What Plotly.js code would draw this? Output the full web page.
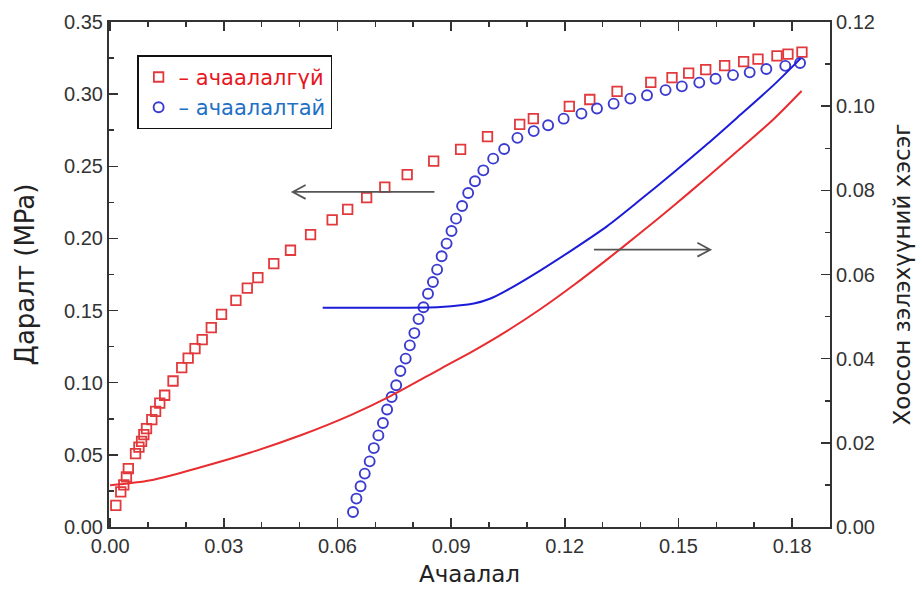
<!DOCTYPE html>
<html>
<head>
<meta charset="utf-8">
<script src="https://cdn.plot.ly/plotly-3.0.1.min.js"></script>
<style>html,body{margin:0;padding:0;background:#fff;}#chart{width:920px;height:592px;}</style>
</head>
<body>
<div id="chart"></div>
<script>
// Pressure vs strain, unloaded (squares)
const sqStrain = [0.0015,0.0028,0.0036,0.0043,0.0048,0.0067,0.0076,0.0083,0.0089,0.0096,0.0110,0.0120,0.0131,0.0144,0.0166,0.0189,0.0206,0.0224,0.0243,0.0267,0.0294,0.0332,0.0362,0.0390,0.0432,0.0476,0.0529,0.0586,0.0627,0.0677,0.0725,0.0784,0.0854,0.0925,0.0996,0.1081,0.1117,0.1212,0.1266,0.1338,0.1427,0.1483,0.1527,0.1572,0.1622,0.1672,0.1710,0.1760,0.1789,0.1826];
const sqPressure = [0.0150,0.0243,0.0292,0.0347,0.0405,0.0509,0.0554,0.0594,0.0640,0.0682,0.0744,0.0802,0.0859,0.0913,0.1012,0.1105,0.1171,0.1236,0.1299,0.1382,0.1474,0.1571,0.1656,0.1728,0.1825,0.1918,0.2026,0.2129,0.2202,0.2283,0.2356,0.2442,0.2536,0.2617,0.2705,0.2791,0.2830,0.2915,0.2963,0.3019,0.3082,0.3114,0.3146,0.3170,0.3197,0.3225,0.3243,0.3265,0.3278,0.3291];
// Pressure vs strain, loaded (circles)
const ciStrain = [0.0641,0.0650,0.0661,0.0672,0.0685,0.0696,0.0708,0.0720,0.0731,0.0743,0.0755,0.0766,0.0780,0.0791,0.0803,0.0814,0.0827,0.0839,0.0852,0.0863,0.0875,0.0888,0.0901,0.0913,0.0929,0.0945,0.0963,0.0985,0.1011,0.1040,0.1075,0.1118,0.1156,0.1197,0.1244,0.1285,0.1329,0.1373,0.1417,0.1466,0.1509,0.1555,0.1598,0.1644,0.1688,0.1732,0.1782,0.1821];
const ciPressure = [0.0104,0.0197,0.0282,0.0370,0.0455,0.0547,0.0635,0.0721,0.0814,0.0901,0.0982,0.1081,0.1167,0.1259,0.1344,0.1441,0.1523,0.1617,0.1698,0.1784,0.1876,0.1964,0.2051,0.2137,0.2225,0.2315,0.2396,0.2472,0.2553,0.2620,0.2697,0.2744,0.2784,0.2830,0.2865,0.2900,0.2934,0.2969,0.2992,0.3028,0.3054,0.3080,0.3107,0.3132,0.3151,0.3174,0.3196,0.3216];
// Void fraction curves (right axis)
const redLineStrain = [0.0,0.0107,0.0239,0.0371,0.0503,0.0635,0.0740,0.0872,0.0960,0.1048,0.1136,0.1224,0.1312,0.1400,0.1488,0.1576,0.1664,0.1751,0.1825];
const redLineVoid = [0.0099,0.0111,0.0142,0.0177,0.0218,0.0266,0.0311,0.0376,0.0419,0.0466,0.0518,0.0575,0.0636,0.0699,0.0764,0.0831,0.0900,0.0969,0.1036];
const blueLineStrain = [0.0561,0.0714,0.0872,0.0960,0.1004,0.1048,0.1136,0.1224,0.1312,0.1400,0.1488,0.1576,0.1664,0.1751,0.1822];
const blueLineVoid = [0.0521,0.0521,0.0523,0.0531,0.0543,0.0563,0.0610,0.0661,0.0715,0.0778,0.0843,0.0910,0.0980,0.1050,0.1113];
// Legend labels
const seriesNames = ['– ачаалалгүй', '– ачаалалтай'];
const axisTitles = {x: 'Ачаалал', y: 'Даралт (MPa)', y2: 'Хоосон зэлэхүүний хэсэг'};
// Arrows: [xStart, xEnd, y(left axis)]
const arrowLeft = [0.0856, 0.0482, 0.2322];
const arrowRight = [0.1277, 0.1584, 0.1922];

const RED = '#e2393c', BLUE = '#3b3bcf';
const FONT = '"Liberation Sans", Arial, sans-serif';
const TFONT = '"DejaVu Sans", sans-serif';

function arrowPath(a, dir) {
  const [x0, x1, y] = a;
  const hx = 0.0034 * dir, hy = 0.0048;
  return `M ${x0},${y} L ${x1},${y} M ${x1 - hx},${y + hy} L ${x1},${y} L ${x1 - hx},${y - hy}`;
}

const traces = [
  {x: redLineStrain, y: redLineVoid, yaxis: 'y2', type: 'scatter', mode: 'lines',
   line: {color: '#e82c2f', width: 2, shape: 'spline', smoothing: 0.8}, showlegend: false},
  {x: blueLineStrain, y: blueLineVoid, yaxis: 'y2', type: 'scatter', mode: 'lines',
   line: {color: '#1c1cd8', width: 2, shape: 'spline', smoothing: 0.8}, showlegend: false},
  {x: sqStrain, y: sqPressure, type: 'scatter', mode: 'markers',
   name: '<span style="color:#e8161e">' + seriesNames[0] + '</span>',
   marker: {symbol: 'square-open', size: 9.5, color: RED, line: {width: 1.8, color: RED}}},
  {x: ciStrain, y: ciPressure, type: 'scatter', mode: 'markers',
   name: '<span style="color:#2270c4">' + seriesNames[1] + '</span>',
   marker: {symbol: 'circle-open', size: 10, color: BLUE, line: {width: 1.9, color: BLUE}}}
];

const axisCommon = {
  showline: true, linecolor: '#333', linewidth: 2, ticks: 'inside', ticklen: 9, tickwidth: 1.5,
  tickcolor: '#333', showgrid: false, zeroline: false, tickformat: '.2f',
  tickfont: {family: FONT, size: 20, color: '#333'}
};

const layout = {
  width: 920, height: 592,
  margin: {l: 109, r: 90, t: 22, b: 65},
  paper_bgcolor: '#fff', plot_bgcolor: '#fff',
  font: {family: FONT},
  xaxis: Object.assign({}, axisCommon, {
    range: [-0.0003, 0.1900], dtick: 0.03, tick0: 0, mirror: 'ticks',
    minor: {dtick: 0.01, ticks: 'inside', ticklen: 5, tickwidth: 1.5, tickcolor: '#333'},
    title: {text: axisTitles.x, font: {family: TFONT, size: 23, color: '#222'}, standoff: 10}
  }),
  yaxis: Object.assign({}, axisCommon, {
    range: [0, 0.35], dtick: 0.05, tick0: 0,
    minor: {dtick: 0.025, ticks: 'inside', ticklen: 5, tickwidth: 1.5, tickcolor: '#333'},
    title: {text: axisTitles.y, font: {family: TFONT, size: 26, color: '#222'}, standoff: 22}
  }),
  yaxis2: Object.assign({}, axisCommon, {
    overlaying: 'y', side: 'right', range: [0, 0.12], dtick: 0.02, tick0: 0,
    minor: {dtick: 0.01, ticks: 'inside', ticklen: 5, tickwidth: 1.5, tickcolor: '#333'},
    title: {text: axisTitles.y2, font: {family: TFONT, size: 23, color: '#222'}, standoff: 20}
  }),
  legend: {
    x: 0.039, y: 0.934, xanchor: 'left', yanchor: 'top',
    bordercolor: '#111', borderwidth: 1.5, bgcolor: '#fff',
    font: {family: TFONT, size: 21}, tracegroupgap: 0
  },
  shapes: [
    {type: 'path', xref: 'x', yref: 'y', path: arrowPath(arrowLeft, -1), line: {color: '#555', width: 1.8}},
    {type: 'path', xref: 'x', yref: 'y', path: arrowPath(arrowRight, 1), line: {color: '#555', width: 1.8}}
  ]
};

Plotly.newPlot('chart', traces, layout, {displayModeBar: false, staticPlot: true});
</script>
</body>
</html>
